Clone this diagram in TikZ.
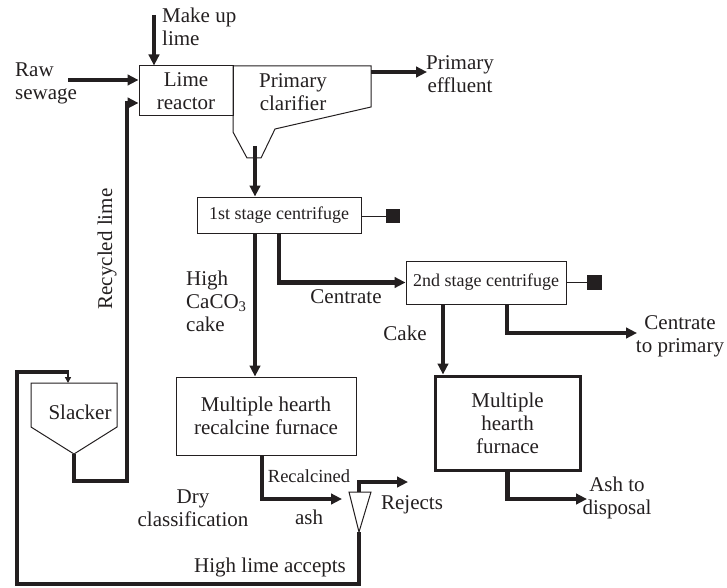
\documentclass[tikz,border=0pt]{standalone}
\usepackage{fontspec}
\setmainfont{Liberation Serif}
\usetikzlibrary{arrows.meta}
\definecolor{ink}{RGB}{35,31,32}
\begin{document}
\begin{tikzpicture}[x=1pt,y=-1pt,color=ink,
  box/.style={draw, line width=1pt, inner sep=0pt, rectangle},
  thinline/.style={line width=1pt},
  flow/.style={line width=4.2pt, -{Triangle[length=11pt,width=10.5pt]}},
  pipe/.style={line width=4.2pt},
  smallflow/.style={line width=1.6pt, -{Triangle[length=6pt,width=6pt]}},
  lbl/.style={inner sep=0pt, font=\fontsize{21}{23}\selectfont},
  slbl/.style={inner sep=0pt, font=\fontsize{18}{21}\selectfont},
  sqr/.style={fill=ink, draw=none, inner sep=0pt, minimum size=14.5pt},
]
\useasboundingbox (0,0) rectangle (727,588);

% ---- Lime reactor and primary clarifier ----
\node[box, lbl, align=center, minimum width=94pt, minimum height=50pt] (reactor) at (186,91) {Lime\\reactor};
\draw[thinline] (233,66) -- (371,66) -- (371,107) -- (275,129) -- (261,158) -- (247,158) -- (233,132) -- cycle;
\node[lbl, align=center] (clartxt) at (293,92) {Primary\\clarifier};
\coordinate (clarout) at (255,146);
\coordinate (clareff) at (371,72);

% make up lime
\coordinate (mk) at (154,15);
\draw[flow] (mk) -- (mk |- reactor.north);
\node[lbl, align=left, anchor=west] (mktxt) at (162,27) {Make up\\lime};

% raw sewage
\coordinate (raw) at (68,80);
\draw[flow] (raw) -- (raw -| reactor.west);
\node[lbl, align=left, anchor=west] (rawtxt) at (15,83) {Raw\\sewage};

% primary effluent
\coordinate (eff) at (427,72);
\draw[flow] (clareff) -- (eff);
\node[lbl, align=center] (efftxt) at (460,74) {Primary\\effluent};

% ---- centrifuges ----
\node[box, slbl, minimum width=164pt, minimum height=36pt] (c1) at (279,215) {1st stage centrifuge};
\node[sqr] (sq1) at (393,216) {};
\draw[thinline] (c1.east |- sq1) -- (sq1.west);
\draw[flow] (clarout) -- (clarout |- c1.north);

\node[box, slbl, minimum width=160pt, minimum height=43pt] (c2) at (486,282.5) {2nd stage centrifuge};
\node[sqr] (sq2) at (594.5,282.5) {};
\draw[thinline] (c2.east) -- (sq2.west);

% ---- furnaces ----
\node[box, lbl, align=center, minimum width=180pt, minimum height=78pt] (f1) at (266,416) {Multiple hearth\\recalcine furnace};
\node[box, line width=3pt, lbl, align=center, minimum width=145pt, minimum height=94pt] (f2) at (507.5,423) {Multiple\\hearth\\furnace};

% 1st centrifuge -> furnace (high CaCO3 cake)
\draw[flow] ([xshift=-24pt]c1.south) -- ([xshift=-24pt]c1.south |- f1.north);
\node[lbl, align=left, anchor=west] (cakeA) at (186,301) {High\\CaCO\textsubscript{3}\\cake};

% centrate
\draw[flow] (c1.south) |- (c2.west);
\node[lbl] (centr) at (346,297) {Centrate};

% cake
\draw[flow] ([xshift=-43pt]c2.south) -- ([xshift=-43pt]c2.south |- f2.north);
\node[lbl] (caketxt) at (405,333) {Cake};

% centrate to primary
\coordinate (ctp) at (637,333);
\draw[flow] ([xshift=21pt]c2.south) |- (ctp);
\node[lbl, align=center] (ctptxt) at (680,336) {Centrate\\to primary};

% ash to disposal
\coordinate (ashend) at (587,499);
\draw[flow] (f2.south) |- (ashend);
\node[lbl, align=center] (ashtxt) at (617,498) {Ash to\\disposal};

% ---- dry classification ----
\coordinate (ctop) at (359,492);
\coordinate (ctip) at (359,532);
\draw[thinline] (349,492) -- (371,492) -- (ctip) -- cycle;
\coordinate (rin) at (342,499);
\draw[flow] ([xshift=-4pt]f1.south) |- (rin);
\node[slbl, font=\fontsize{18.5}{21}\selectfont] (recal) at (309,476) {Recalcined};
\node[lbl] (ashl) at (309,517) {ash};
\node[lbl, align=center] (drytxt) at (193,508) {Dry\\classification};
\coordinate (rej) at (408,482);
\draw[flow] (ctop) |- (rej);
\node[lbl] (rejtxt) at (412,505) {Rejects};

% ---- slacker and loop ----
\draw[thinline] (31,383) -- (117,383) -- (117,427) -- (74,454) -- (31,427) -- cycle;
\node[lbl] (slacker) at (80,412) {Slacker};
\coordinate (stip) at (74,454);
\coordinate (sin) at (68,372);
\coordinate (sinend) at (68,383);
\coordinate (lbR) at (359,584);
\coordinate (lbL) at (17,584);
\coordinate (ltL) at (17,372);
\draw[pipe] (ctip) -- (lbR) -- (lbL) -- (ltL) -- ([xshift=1pt]sin);
\draw[smallflow] ([yshift=-1pt]sin) -- (sinend);
\node[lbl] (accepts) at (270,567) {High lime accepts};

% recycled lime
\coordinate (rlb) at (74,481);
\coordinate (rlr) at (127,481);
\coordinate (rlt) at (127,103);
\draw[flow] (stip) -- (rlb) -- (rlr) -- (rlt) -- (rlt -| reactor.west);
\node[lbl, rotate=90] (rectxt) at (107,249) {Recycled lime};
\end{tikzpicture}
\end{document}
